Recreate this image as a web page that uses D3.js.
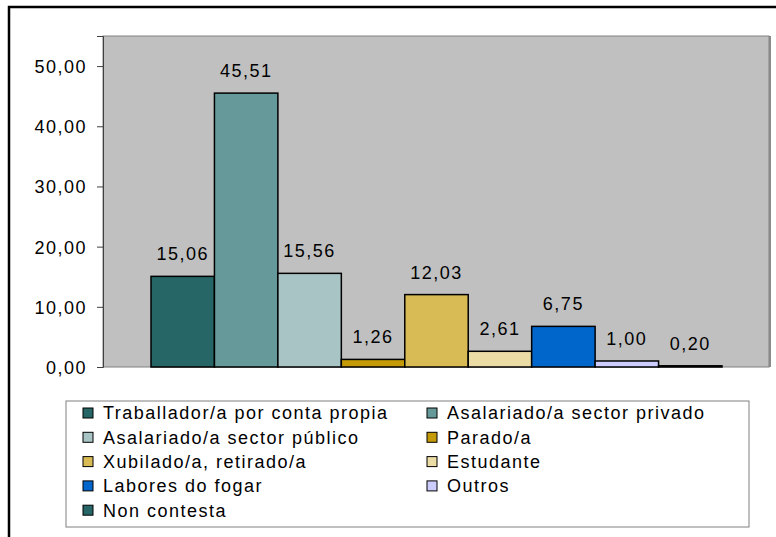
<!DOCTYPE html>
<html>
<head>
<meta charset="utf-8">
<script src="https://cdn.jsdelivr.net/npm/d3@7"></script>
<style>
  body { margin: 0; background: #fff; }
  text { font-family: "Liberation Sans", Arial, sans-serif; fill: #000; }
</style>
</head>
<body>
<div id="chart"></div>
<script>
'use strict';

// data
var categories = [
    "Traballador/a por conta propia",
    "Asalariado/a sector privado",
    "Asalariado/a sector público",
    "Parado/a",
    "Xubilado/a, retirado/a",
    "Estudante",
    "Labores do fogar",
    "Outros",
    "Non contesta"
];
var values = [15.06, 45.51, 15.56, 1.26, 12.03, 2.61, 6.75, 1.00, 0.20];
var yTicks = [0, 10, 20, 30, 40, 50];
var colors = ["#266666", "#669999", "#a9c4c5", "#c49a08", "#d9bb55", "#ebdca6", "#0066cc", "#ccccff", "#266666"];

var svgWidth = 776, svgHeight = 537;
var plot = { left: 103, top: 36, right: 769, bottom: 367 };
var fontSize = "18px", spacing = "1.5px";

var svg = d3.select("#chart").append("svg")
    .attr("width", svgWidth)
    .attr("height", svgHeight);

// outer frame (cut off at right and bottom)
svg.append("rect")
    .attr("x", 9).attr("y", 7)
    .attr("width", 800).attr("height", 600)
    .attr("fill", "#fff")
    .attr("stroke", "#000")
    .attr("stroke-width", 2.5);

// plot area
svg.append("rect")
    .attr("x", plot.left).attr("y", plot.top)
    .attr("width", plot.right - plot.left)
    .attr("height", plot.bottom - plot.top)
    .attr("fill", "#c0c0c0")
    .attr("stroke", "#808080")
    .attr("stroke-width", 1);
svg.append("line")
    .attr("x1", plot.right + 1).attr("x2", plot.right + 1)
    .attr("y1", plot.top).attr("y2", plot.bottom)
    .attr("stroke", "#8a8a8a").attr("stroke-width", 2);

var y = d3.scaleLinear().domain([0, 55]).range([plot.bottom, plot.top]);
var x = d3.scaleBand().domain(d3.range(values.length)).range([151, 722]).padding(0);

var fmt = function(v) { return d3.format(".2f")(v).replace(".", ","); };

// y axis
var yAxis = d3.axisLeft(y)
    .tickValues(yTicks)
    .tickSize(6)
    .tickPadding(10)
    .tickFormat(fmt);
var gy = svg.append("g")
    .attr("transform", "translate(" + plot.left + ",0)")
    .call(yAxis);
gy.select(".domain").attr("stroke", "#404040");
gy.selectAll(".tick line").attr("stroke", "#404040");
gy.selectAll(".tick text")
    .style("font-size", fontSize)
    .style("letter-spacing", spacing)
    .attr("dy", "0.36em");

// bars
var bars = svg.append("g").selectAll(".bar")
    .data(values)
    .enter().append("g")
    .attr("class", "bar");

bars.append("rect")
    .attr("x", function(d, i) { return x(i); })
    .attr("y", function(d) { return y(d); })
    .attr("width", x.bandwidth())
    .attr("height", function(d) { return y(0) - y(d); })
    .attr("fill", function(d, i) { return colors[i]; })
    .attr("stroke", "#000")
    .attr("stroke-width", 1.5);

bars.append("text")
    .attr("x", function(d, i) { return x(i) + x.bandwidth() / 2; })
    .attr("y", function(d) { return y(d) - 16; })
    .style("text-anchor", "middle")
    .style("font-size", fontSize)
    .style("letter-spacing", spacing)
    .text(function(d) { return fmt(d); });

// legend
var legend = svg.append("g");
legend.append("rect")
    .attr("x", 66).attr("y", 401)
    .attr("width", 683).attr("height", 126)
    .attr("fill", "#fff")
    .attr("stroke", "#808080")
    .attr("stroke-width", 1);

var items = legend.selectAll(".item")
    .data(categories)
    .enter().append("g")
    .attr("class", "item")
    .attr("transform", function(d, i) {
        var col = i % 2, row = Math.floor(i / 2);
        return "translate(" + (col === 0 ? 83 : 427) + "," + (413 + row * 24.3) + ")";
    });

items.append("rect")
    .attr("x", 0).attr("y", -5)
    .attr("width", 10).attr("height", 10)
    .attr("fill", function(d, i) { return colors[i]; })
    .attr("stroke", "#000")
    .attr("stroke-width", 1);

items.append("text")
    .attr("x", 20)
    .attr("dy", "0.36em")
    .style("font-size", fontSize)
    .style("letter-spacing", spacing)
    .text(function(d) { return d; });
</script>
</body>
</html>
